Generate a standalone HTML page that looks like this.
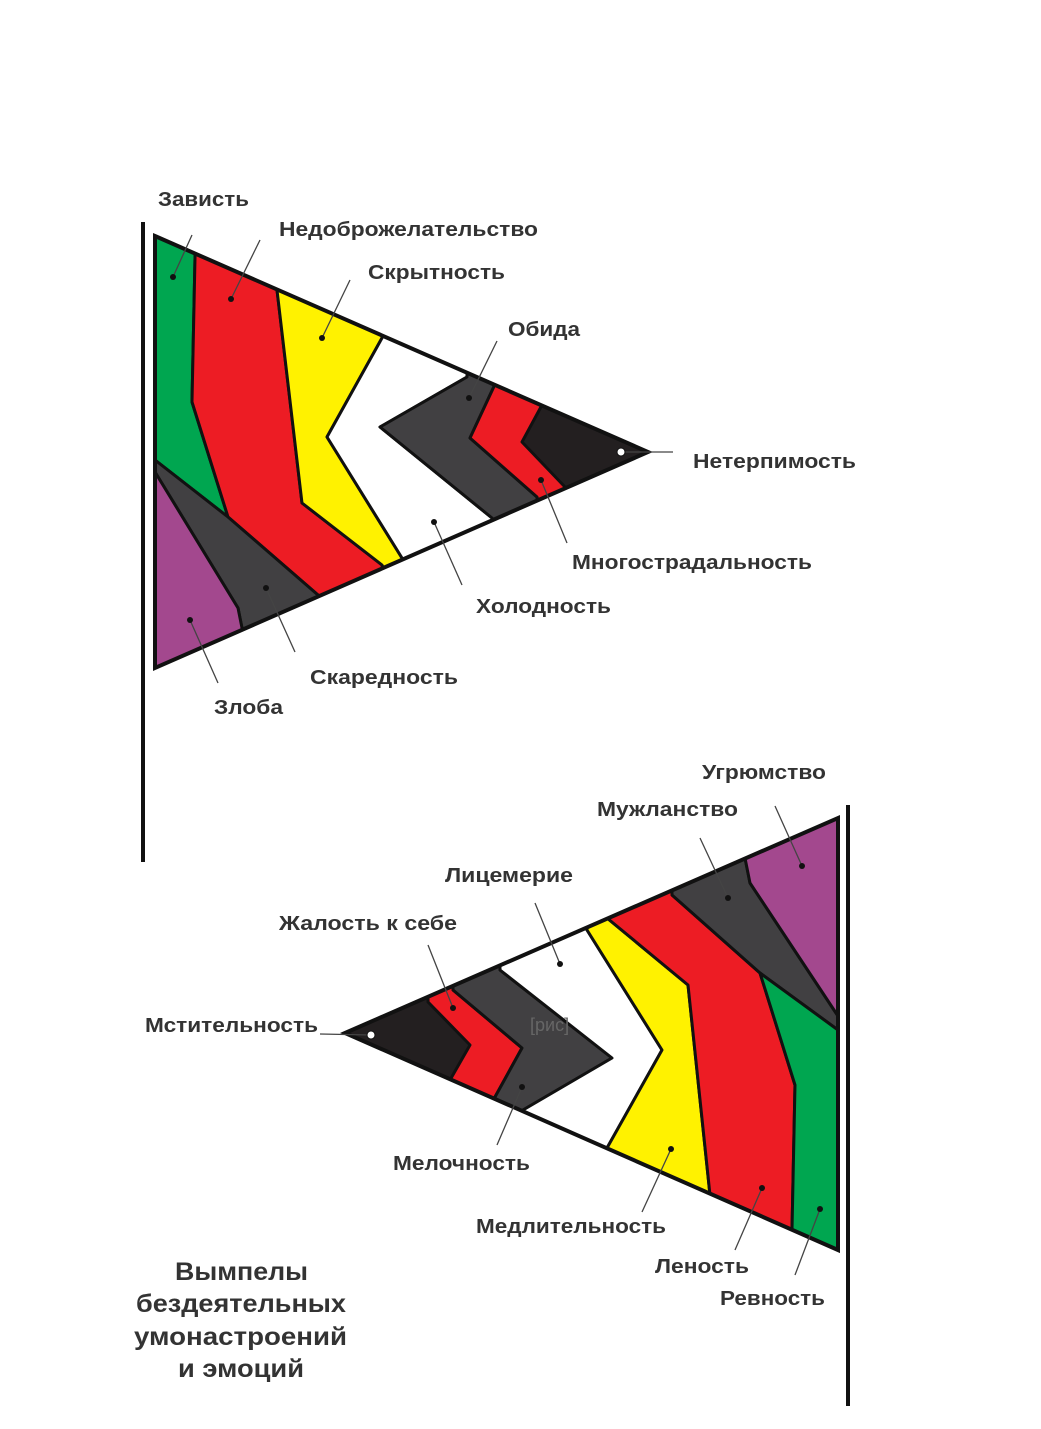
<!DOCTYPE html>
<html><head><meta charset="utf-8"><style>
html,body{margin:0;padding:0;background:#fff;}
svg{display:block;}
text{font-family:"Liberation Sans",sans-serif;font-weight:bold;fill:#333;}
</style></head><body>
<svg width="1041" height="1429" viewBox="0 0 1041 1429" xmlns="http://www.w3.org/2000/svg">
<defs>
<clipPath id="t1"><polygon points="155,236 648,452 155,668"/></clipPath>
<clipPath id="t2"><polygon points="345,1033 838,818 838,1250"/></clipPath>
</defs>
<line x1="143" y1="222" x2="143" y2="862" stroke="#111" stroke-width="4"/>
<line x1="848" y1="805" x2="848" y2="1406" stroke="#111" stroke-width="4"/>

<g clip-path="url(#t1)" stroke="#111" stroke-width="3" stroke-linejoin="round">
<rect x="100" y="200" width="600" height="500" fill="#231f20"/>
<polygon points="100,200 195,200 195,258 192,402 228,517 155,460 100,460" fill="#00a650"/>
<polygon points="195,200 277,200 277,290 302,503 382,565 390,620 318,595 228,517 192,402 195,258" fill="#ed1c24"/>
<polygon points="277,200 382,200 382,338 327,437 402,558 410,620 382,565 302,503 277,290" fill="#fff200"/>
<polygon points="382,200 467,200 467,377 380,427 492,518 500,620 402,558 327,437 382,338" fill="#fff"/>
<polygon points="467,300 497,380 470,438 537,497 545,620 492,518 380,427 467,377" fill="#414042"/>
<polygon points="497,380 542,405 522,442 565,487 570,620 537,497 470,438" fill="#ed1c24"/>
<polygon points="100,440 155,460 228,517 318,595 330,700 242,628 238,608 155,472 100,470" fill="#414042"/>
<polygon points="100,470 155,472 238,608 242,628 250,700 100,700" fill="#a3488e"/>
</g>
<polygon points="155,236 648,452 155,668" fill="none" stroke="#111" stroke-width="4" stroke-linejoin="miter"/>

<g clip-path="url(#t2)" stroke="#111" stroke-width="3" stroke-linejoin="round">
<rect x="330" y="800" width="540" height="470" fill="#231f20"/>
<polygon points="428,1002 428,960 453,960 453,990 522,1048 495,1097 495,1200 450,1080 470,1045" fill="#ed1c24"/>
<polygon points="453,990 453,940 500,940 500,970 612,1058 523,1110 523,1200 495,1097 522,1048" fill="#414042"/>
<polygon points="500,970 500,900 587,900 587,930 662,1050 607,1148 607,1260 523,1110 612,1058" fill="#fff"/>
<polygon points="587,930 587,890 607,890 607,918 688,985 710,1195 710,1270 607,1148 662,1050" fill="#fff200"/>
<polygon points="607,918 607,870 672,870 672,895 760,973 795,1085 792,1230 792,1280 710,1195 688,985" fill="#ed1c24"/>
<polygon points="672,895 672,840 745,840 745,858 750,883 838,1016 838,1030 760,973" fill="#414042"/>
<polygon points="745,858 745,800 860,800 860,1016 838,1016 750,883" fill="#a3488e"/>
<polygon points="760,973 838,1030 860,1030 860,1280 792,1280 792,1230 795,1085" fill="#00a650"/>
</g>
<polygon points="345,1033 838,818 838,1250" fill="none" stroke="#111" stroke-width="4" stroke-linejoin="miter"/>

<text x="530" y="1025" dominant-baseline="central" font-size="18" style="fill:#666;font-weight:normal">[рис]</text>

<g stroke="#444" stroke-width="1.3" fill="none">
<line x1="173" y1="277" x2="192" y2="235"/>
<line x1="231" y1="299" x2="260" y2="240"/>
<line x1="322" y1="338" x2="350" y2="280"/>
<line x1="469" y1="398" x2="497" y2="341"/>
<line x1="621" y1="452" x2="673" y2="452"/>
<line x1="541" y1="480" x2="567" y2="543"/>
<line x1="434" y1="522" x2="462" y2="585"/>
<line x1="266" y1="588" x2="295" y2="652"/>
<line x1="190" y1="620" x2="218" y2="683"/>
<line x1="802" y1="866" x2="775" y2="806"/>
<line x1="728" y1="898" x2="700" y2="838"/>
<line x1="560" y1="964" x2="535" y2="903"/>
<line x1="453" y1="1008" x2="428" y2="945"/>
<line x1="320" y1="1034" x2="371" y2="1035"/>
<line x1="522" y1="1087" x2="497" y2="1145"/>
<line x1="671" y1="1149" x2="642" y2="1212"/>
<line x1="762" y1="1188" x2="735" y2="1250"/>
<line x1="820" y1="1209" x2="795" y2="1275"/>
</g>
<g fill="#111">
<circle cx="173" cy="277" r="3"/><circle cx="231" cy="299" r="3"/><circle cx="322" cy="338" r="3"/>
<circle cx="469" cy="398" r="3"/><circle cx="541" cy="480" r="3"/><circle cx="434" cy="522" r="3"/>
<circle cx="266" cy="588" r="3"/><circle cx="190" cy="620" r="3"/>
<circle cx="802" cy="866" r="3"/><circle cx="728" cy="898" r="3"/><circle cx="560" cy="964" r="3"/>
<circle cx="453" cy="1008" r="3"/><circle cx="522" cy="1087" r="3"/><circle cx="671" cy="1149" r="3"/>
<circle cx="762" cy="1188" r="3"/><circle cx="820" cy="1209" r="3"/>
</g>
<circle cx="621" cy="452" r="4" fill="#fff" stroke="#111" stroke-width="1"/>
<circle cx="371" cy="1035" r="4" fill="#fff" stroke="#111" stroke-width="1"/>

<g font-size="20" dominant-baseline="central">
<text x="158" y="200" textLength="91" lengthAdjust="spacingAndGlyphs">Зависть</text>
<text x="279" y="230" textLength="259" lengthAdjust="spacingAndGlyphs">Недоброжелательство</text>
<text x="368" y="273" textLength="137" lengthAdjust="spacingAndGlyphs">Скрытность</text>
<text x="508" y="330" textLength="72" lengthAdjust="spacingAndGlyphs">Обида</text>
<text x="693" y="462" textLength="163" lengthAdjust="spacingAndGlyphs">Нетерпимость</text>
<text x="572" y="563" textLength="240" lengthAdjust="spacingAndGlyphs">Многострадальность</text>
<text x="476" y="607" textLength="135" lengthAdjust="spacingAndGlyphs">Холодность</text>
<text x="310" y="678" textLength="148" lengthAdjust="spacingAndGlyphs">Скаредность</text>
<text x="214" y="708" textLength="69" lengthAdjust="spacingAndGlyphs">Злоба</text>
<text x="702" y="773" textLength="124" lengthAdjust="spacingAndGlyphs">Угрюмство</text>
<text x="597" y="810" textLength="141" lengthAdjust="spacingAndGlyphs">Мужланство</text>
<text x="445" y="876" textLength="128" lengthAdjust="spacingAndGlyphs">Лицемерие</text>
<text x="279" y="924" textLength="178" lengthAdjust="spacingAndGlyphs">Жалость к себе</text>
<text x="145" y="1026" textLength="173" lengthAdjust="spacingAndGlyphs">Мстительность</text>
<text x="393" y="1164" textLength="137" lengthAdjust="spacingAndGlyphs">Мелочность</text>
<text x="476" y="1227" textLength="190" lengthAdjust="spacingAndGlyphs">Медлительность</text>
<text x="655" y="1267" textLength="94" lengthAdjust="spacingAndGlyphs">Леность</text>
<text x="720" y="1299" textLength="105" lengthAdjust="spacingAndGlyphs">Ревность</text>
</g>
<g font-size="25" dominant-baseline="central">
<text x="175" y="1272" textLength="133" lengthAdjust="spacingAndGlyphs">Вымпелы</text>
<text x="136" y="1304" textLength="210" lengthAdjust="spacingAndGlyphs">бездеятельных</text>
<text x="134" y="1337" textLength="213" lengthAdjust="spacingAndGlyphs">умонастроений</text>
<text x="178" y="1369" textLength="126" lengthAdjust="spacingAndGlyphs">и эмоций</text>
</g>
</svg>
</body></html>
